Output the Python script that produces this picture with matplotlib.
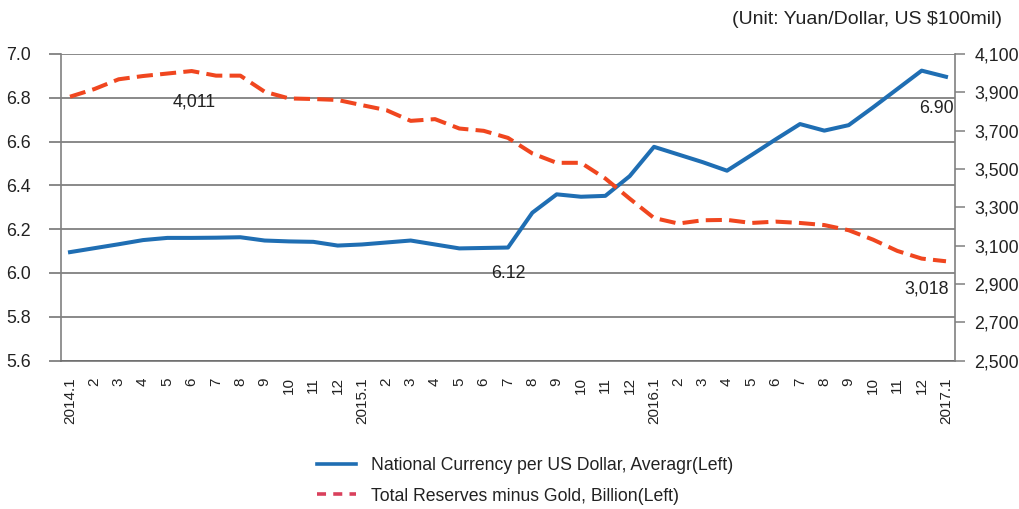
import matplotlib
matplotlib.use('Agg')
import matplotlib.pyplot as plt
from matplotlib.lines import Line2D
from matplotlib.ticker import FuncFormatter

plt.rcParams['font.family'] = ['Liberation Sans', 'DejaVu Sans']

# Monthly data, 2014.1 - 2017.1
month_labels = ['2014.1', '2', '3', '4', '5', '6', '7', '8', '9', '10', '11', '12',
                '2015.1', '2', '3', '4', '5', '6', '7', '8', '9', '10', '11', '12',
                '2016.1', '2', '3', '4', '5', '6', '7', '8', '9', '10', '11', '12',
                '2017.1']

# Yuan per US dollar (left axis)
exchange_rate = [6.095, 6.113, 6.131, 6.150, 6.160, 6.160, 6.161, 6.163, 6.148, 6.144,
                 6.142, 6.125, 6.130, 6.139, 6.148, 6.130, 6.112, 6.114, 6.116, 6.275,
                 6.359, 6.348, 6.352, 6.442, 6.576, 6.541, 6.506, 6.467, 6.538, 6.610,
                 6.680, 6.650, 6.675, 6.756, 6.840, 6.924, 6.896]

# Total reserves minus gold, US $100mil (right axis)
reserves = [3877, 3917, 3968, 3985, 3998, 4011, 3987, 3987, 3903, 3868,
            3865, 3860, 3833, 3807, 3751, 3760, 3711, 3699, 3662, 3581,
            3532, 3532, 3450, 3345, 3244, 3215, 3232, 3234, 3218, 3225,
            3218, 3207, 3180, 3131, 3072, 3032, 3018]

rate_ticks = [5.6, 5.8, 6.0, 6.2, 6.4, 6.6, 6.8, 7.0]
reserve_ticks = [2500, 2700, 2900, 3100, 3300, 3500, 3700, 3900, 4100]

series_names = ['National Currency per US Dollar, Averagr(Left)',
                'Total Reserves minus Gold, Billion(Left)']

color_rate = '#1f6eb3'
color_res = '#f0461f'
color_res_legend = '#d9405c'
grid_color = '#6a6a6a'

x = list(range(len(month_labels)))

fig = plt.figure(figsize=(10.2, 5.09), dpi=100)
fig.patch.set_facecolor('white')
ax1 = fig.add_axes([61 / 1020, 1 - 360.5 / 509, (955 - 61) / 1020, (360.5 - 54) / 509])

ax1.plot(x, exchange_rate, color=color_rate, linewidth=2.9, solid_joinstyle='round', zorder=3)
ax1.set_ylim(5.6, 7.0)
ax1.set_xlim(-0.37, 36.37)
ax1.set_yticks(rate_ticks)
ax1.yaxis.set_major_formatter(FuncFormatter(lambda v, p: f'{v:.1f}'))
ax1.grid(axis='y', color=grid_color, linewidth=1.1)
ax1.set_axisbelow(True)
ax1.tick_params(axis='y', length=9, width=1.1, color=grid_color, pad=13, labelsize=12.8,
                labelcolor='#222222')
ax1.set_xticks(x)
ax1.set_xticklabels(month_labels, rotation=90, fontsize=11, color='#222222')
ax1.tick_params(axis='x', length=0, pad=12)

for side in ['top', 'right']:
    ax1.spines[side].set_visible(False)
ax1.spines['left'].set_color('#808080')
ax1.spines['left'].set_linewidth(1.2)
ax1.spines['bottom'].set_color(grid_color)
ax1.spines['bottom'].set_linewidth(1.1)

# Right axis: reserves
ax2 = ax1.twinx()
ax2.plot(x, reserves, color=color_res, linewidth=2.9, linestyle=(0, (4, 1.8)),
         dash_capstyle='butt', zorder=3)
ax2.set_ylim(2500, 4100)
ax2.set_yticks(reserve_ticks)
ax2.yaxis.set_major_formatter(FuncFormatter(lambda v, p: f'{int(v):,}'))
ax2.tick_params(axis='y', length=7, width=1.1, color='#808080', pad=7, labelsize=12.8,
                labelcolor='#222222')
for side in ['top', 'left', 'bottom']:
    ax2.spines[side].set_visible(False)
ax2.spines['right'].set_color('#808080')
ax2.spines['right'].set_linewidth(1.2)

# Value labels
i_max = reserves.index(max(reserves))
ax2.annotate(f'{reserves[i_max]:,}', xy=(i_max, reserves[i_max]), xytext=(2, -22),
             textcoords='offset points', ha='center', va='center', fontsize=12.8, color='#222222')
ax1.annotate(f'{exchange_rate[18]:.2f}', xy=(18, exchange_rate[18]), xytext=(0, -19),
             textcoords='offset points', ha='center', va='center', fontsize=12.8, color='#222222')
ax1.annotate(f'{exchange_rate[-1]:.2f}', xy=(x[-1], exchange_rate[-1]), xytext=(-7, -23),
             textcoords='offset points', ha='center', va='center', fontsize=12.8, color='#222222')
ax2.annotate(f'{reserves[-1]:,}', xy=(x[-1], reserves[-1]), xytext=(-14, -20),
             textcoords='offset points', ha='center', va='center', fontsize=12.8, color='#222222')

# Unit note
fig.text(1002 / 1020, 1 - 20 / 509, '(Unit: Yuan/Dollar, US $100mil)', ha='right', va='center',
         fontsize=14, color='#222222')

# Legend
handles = [Line2D([0], [0], color=color_rate, linewidth=2.6),
           Line2D([0], [0], color=color_res_legend, linewidth=2.6, linestyle=(0, (2.5, 2)))]
fig.legend(handles, series_names, loc='center', bbox_to_anchor=(525 / 1020, 1 - 481 / 509),
           frameon=False, fontsize=12.7, handlelength=2.2, handletextpad=0.85,
           labelspacing=0.75, borderpad=0, borderaxespad=0, labelcolor='#222222')

fig.savefig('out.png', dpi=100, facecolor='white')
plt.close(fig)
